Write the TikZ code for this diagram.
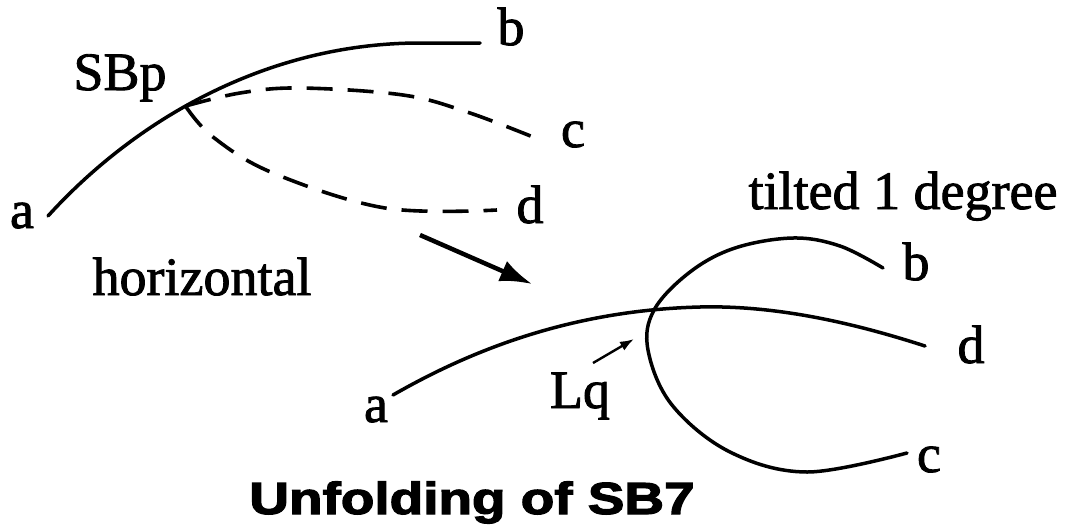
\documentclass[tikz,border=0pt]{standalone}
\usepackage{fontspec}
\setmainfont{Liberation Serif}[FakeBold=1.6]
\newfontfamily\titlefont{Liberation Sans Bold}[FakeBold=2.5]
\usetikzlibrary{arrows.meta}
\begin{document}
\begin{tikzpicture}[x=1pt,y=-1pt,
  lbl/.style={anchor=base, inner sep=0pt, font=\fontsize{54}{60}\selectfont},
  curve/.style={line width=3.5pt, line cap=round, line join=round},
  dcurve/.style={line width=3.6pt, dash pattern=on 26pt off 15pt},
  bigarrow/.style={line width=4.5pt, -{Latex[length=32pt,width=22pt]}},
  smallarrow/.style={line width=2.4pt, -{Latex[length=14pt,width=10pt]}}]
\useasboundingbox (0,0) rectangle (1068,525);

% labels (top diagram)
\node[lbl] (tb) at (511,45) {b};
\node[lbl] (sbp) at (120,90) {SBp};
\node[lbl] (tc) at (573,147) {c};
\node[lbl] (ta) at (22,228) {a};
\node[lbl] (td) at (530,223) {d};
\node[lbl] (hor) at (202,295) {horizontal};

% labels (bottom diagram)
\node[lbl] (tilt) at (903,209) {tilted 1 degree};
\node[lbl] (bb) at (916,280) {b};
\node[lbl] (bd) at (971,363) {d};
\node[lbl] (ba) at (376,422) {a};
\node[lbl] (lq) at (580,408) {Lq};
\node[lbl] (bc) at (929,472) {c};
\node[anchor=base, inner sep=0pt] (title) at (472,514)
  {\scalebox{1.22}[1]{\titlefont\fontsize{45}{50}\selectfont Unfolding of SB7}};

% top diagram curves
\coordinate (topA) at (48,216);
\coordinate (topB) at (480,43);
\draw[curve] (topA) .. controls (138,117) and (270,43) .. coordinate[pos=0.43] (SBpt) (420,43) -- (topB);
\coordinate (topC) at (533,137);
\coordinate (topD) at (497,210);
\draw[dcurve] plot[smooth, tension=0.6] coordinates
  {(SBpt) (240,93) (300,88) (403,95) (467,112) (topC)};
\draw[dcurve] plot[smooth, tension=0.6] coordinates
  {(SBpt) (213,137) (273,173) (385,208) (topD)};

% transition arrow
\coordinate (arrS) at (420,235);
\coordinate (arrE) at (532,284);
\draw[bigarrow] (arrS) -- (arrE);

% bottom diagram curves
\coordinate (botA) at (393,395);
\coordinate (botD) at (925,346);
\draw[curve] (botA) .. controls (480,345) and (580,310) .. coordinate[pos=0.87] (Lqpt) (700,307)
  .. controls (780,305) and (860,325) .. (botD);
\draw[curve] plot[smooth, tension=0.6] coordinates
  {(883,268) (840,246) (793,238) (735,248) (690,272) (Lqpt) (648,350) (672,405) (730,452) (807,472) (907,453)};

% Lq pointer
\coordinate (lqS) at (593,363);
\coordinate (lqE) at (634,339);
\draw[smallarrow] (lqS) -- (lqE);
\end{tikzpicture}
\end{document}
